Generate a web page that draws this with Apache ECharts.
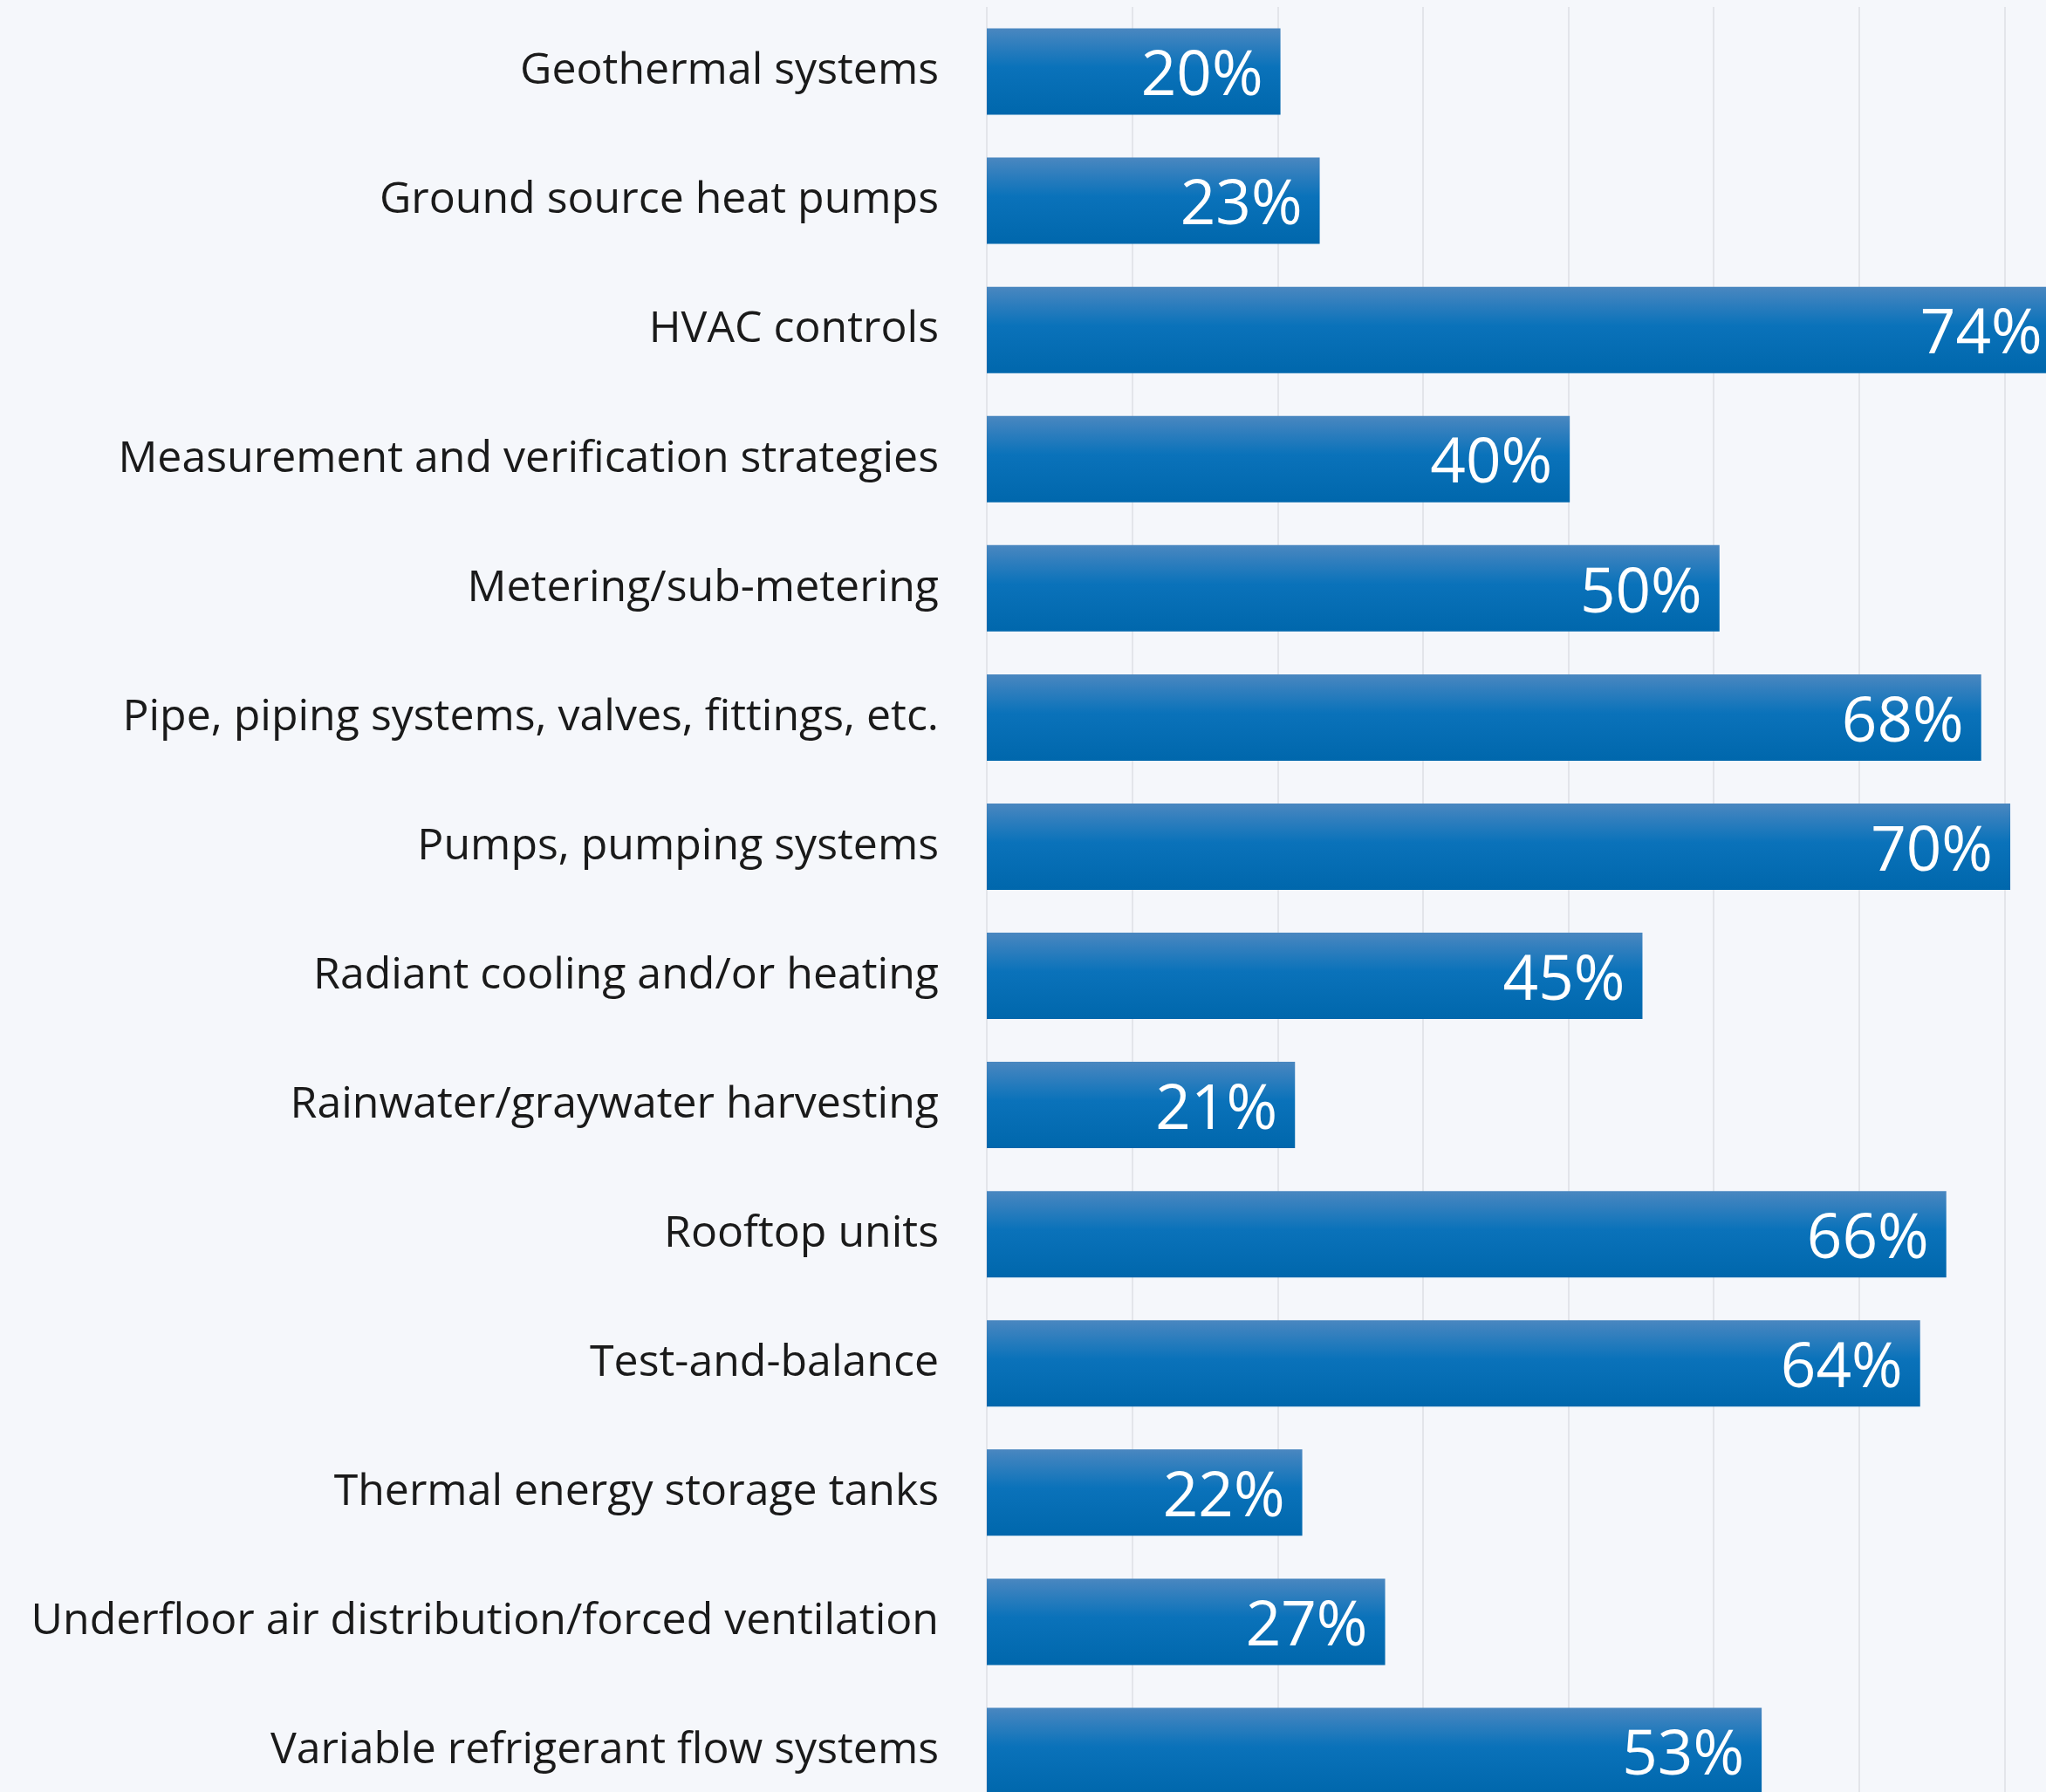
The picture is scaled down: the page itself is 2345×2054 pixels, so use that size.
<!DOCTYPE html>
<html>
<head>
<meta charset="utf-8">
<style>
  html, body { margin: 0; padding: 0; background: #F5F7FB; }
  #chart { width: 2345px; height: 2054px; }
</style>
<script src="https://cdn.jsdelivr.net/npm/echarts@6/dist/echarts.min.js"></script>
</head>
<body>
<div id="chart"></div>
<script>
const categories = [
  "Geothermal systems",
  "Ground source heat pumps",
  "HVAC controls",
  "Measurement and verification strategies",
  "Metering/sub-metering",
  "Pipe, piping systems, valves, fittings, etc.",
  "Pumps, pumping systems",
  "Radiant cooling and/or heating",
  "Rainwater/graywater harvesting",
  "Rooftop units",
  "Test-and-balance",
  "Thermal energy storage tanks",
  "Underfloor air distribution/forced ventilation",
  "Variable refrigerant flow systems"
];
const values = [20.2, 22.9, 73.8, 40.1, 50.4, 68.4, 70.4, 45.1, 21.2, 66.0, 64.2, 21.7, 27.4, 53.3];
const axisMin = 0;
const axisMax = 80;
const axisInterval = 10;

const chart = echarts.init(document.getElementById('chart'), null, { renderer: 'canvas' });
chart.setOption({
  backgroundColor: '#F5F7FB',
  animation: false,
  grid: { left: 1131, top: 8, width: 1333, height: 2073, containLabel: false, outerBoundsMode: 'none' },
  xAxis: {
    type: 'value', min: axisMin, max: axisMax, interval: axisInterval,
    axisLabel: { show: false }, axisLine: { show: false }, axisTick: { show: false },
    splitLine: { show: true, lineStyle: { color: '#E3E5EA', width: 2 } }
  },
  yAxis: {
    type: 'category', data: categories, inverse: true,
    axisLine: { show: false }, axisTick: { show: false },
    axisLabel: { margin: 55, fontFamily: 'Open Sans', fontSize: 50, color: '#1A1A1A', padding: [9, 0, 0, 0] }
  },
  series: [{
    type: 'bar', data: values, barWidth: 99,
    itemStyle: {
      color: new echarts.graphic.LinearGradient(0, 0, 0, 1, [
        { offset: 0, color: '#4A87C0' },
        { offset: 0.45, color: '#0A72BA' },
        { offset: 1, color: '#0067AC' }
      ])
    },
    label: {
      show: true, position: 'insideRight', distance: 20,
      fontFamily: 'Open Sans', fontSize: 71, color: '#FFFFFF',
      offset: [0, 7],
      formatter: p => Math.round(p.value) + '%'
    }
  }]
});
</script>
</body>
</html>
